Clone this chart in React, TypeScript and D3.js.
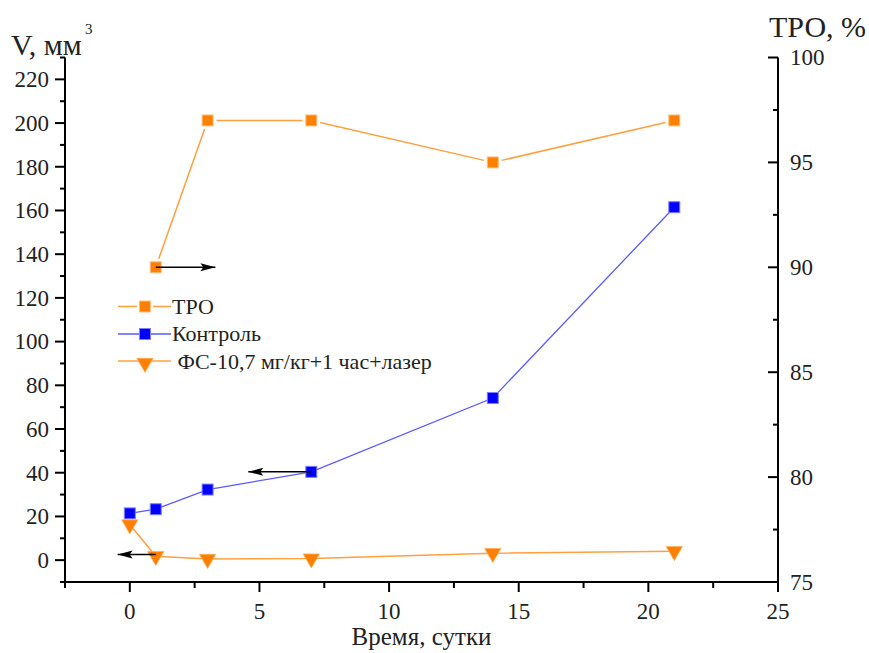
import React from "react";
import * as d3 from "d3";

// --- data ---
const days = [0, 1, 3, 7, 14, 21];
const tpoDays = [1, 3, 7, 14, 21];
const tpoValues = [90, 97, 97, 95, 97]; // right axis, %
const controlValues = [21.4, 23.3, 32.3, 40.4, 74.2, 161.5]; // left axis, mm3
const fsValues = [16.3, 1.8, 0.5, 0.7, 3.2, 4.1]; // left axis, mm3

const xTicks = [0, 5, 10, 15, 20, 25];
const xMinor = [-2.5, 2.5, 7.5, 12.5, 17.5, 22.5];
const yLeftTicks = [0, 20, 40, 60, 80, 100, 120, 140, 160, 180, 200, 220];
const yLeftMinor = [-10, 10, 30, 50, 70, 90, 110, 130, 150, 170, 190, 210, 230];
const yRightTicks = [75, 80, 85, 90, 95, 100];
const yRightMinor = [77.5, 82.5, 87.5, 92.5, 97.5];

const legendLabels = ["ТРО", "Контроль", " ФС-10,7 мг/кг+1 час+лазер"];

// arrows: [from x, to x, y, axis]
const arrows: [number, number, number, "L" | "R"][] = [
  [1, 3.3, 90, "R"],
  [7, 4.57, 40.4, "L"],
  [1, -0.47, 2.6, "L"],
];

const W = 869;
const H = 653;
const left = 65;
const right = 778;
const top = 57.5;
const bottom = 582;
const font = "Liberation Serif";

const ORANGE = "#ff8000";
const ORANGE_LINE = "#ffa040";
const BLUE = "#0000ff";
const BLUE_LINE = "#5a5aff";

export default function App() {
  const x = d3.scaleLinear().domain([-2.5, 25]).range([left, right]);
  const yL = d3.scaleLinear().domain([-10, 230]).range([bottom, top]);
  const yR = d3.scaleLinear().domain([75, 100]).range([bottom, top]);

  const seriesLine = d3.line<number>().x((_, i) => x(days[i])).y((d) => yL(d));

  const tri = d3.symbol().type(d3.symbolTriangle).size(115)();
  const sq = 11;

  // TPO segments, stopping short of the markers
  const gap = 9;
  const tpoPts = tpoDays.map((d, i) => [x(d), yR(tpoValues[i])]);
  const tpoSegs = tpoPts.slice(1).map((p, i) => {
    const a = tpoPts[i];
    const dx = p[0] - a[0];
    const dy = p[1] - a[1];
    const len = Math.hypot(dx, dy);
    const ux = dx / len;
    const uy = dy / len;
    return [a[0] + ux * gap, a[1] + uy * gap, p[0] - ux * gap, p[1] - uy * gap];
  });

  const arrowPath = (x0: number, x1: number, y: number) => {
    const dir = x1 > x0 ? 1 : -1;
    const back = x1 - dir * 15;
    const notch = x1 - dir * 12;
    return `M${x1},${y} L${back},${y - 4} L${notch},${y} L${back},${y + 4} Z`;
  };

  const txt = { fontFamily: font, fill: "#222" };

  return (
    <svg
      width={W}
      height={H}
      style={{ position: "absolute", left: 0, top: 0, background: "#fff", fontFamily: font }}
    >
      {/* axes */}
      <g stroke="#000" strokeWidth={2}>
        <line x1={left} y1={top} x2={left} y2={bottom + 1} />
        <line x1={right} y1={top} x2={right} y2={bottom + 1} />
        <line x1={left - 1} y1={bottom} x2={right + 1} y2={bottom} />
        {yLeftTicks.map((t) => (
          <line key={"lt" + t} x1={left - 10} x2={left} y1={yL(t)} y2={yL(t)} />
        ))}
        {yLeftMinor.map((t) => (
          <line key={"lm" + t} x1={left - 5} x2={left} y1={yL(t)} y2={yL(t)} />
        ))}
        {yRightTicks.map((t) => (
          <line key={"rt" + t} x1={right - 10} x2={right} y1={yR(t)} y2={yR(t)} />
        ))}
        {yRightMinor.map((t) => (
          <line key={"rm" + t} x1={right - 5} x2={right} y1={yR(t)} y2={yR(t)} />
        ))}
        {xTicks.map((t) => (
          <line key={"xt" + t} x1={x(t)} x2={x(t)} y1={bottom} y2={bottom + 10} />
        ))}
        {xMinor.map((t) => (
          <line key={"xm" + t} x1={x(t)} x2={x(t)} y1={bottom} y2={bottom + 6} />
        ))}
      </g>

      {/* tick labels */}
      <g style={{ ...txt, fontSize: 23 }}>
        {yLeftTicks.map((t) => (
          <text key={"ll" + t} x={left - 16} y={yL(t)} dy="0.34em" textAnchor="end">
            {t}
          </text>
        ))}
        {yRightTicks.map((t) => (
          <text key={"rl" + t} x={right + 12} y={yR(t)} dy="0.34em">
            {t}
          </text>
        ))}
        {xTicks.map((t) => (
          <text key={"xl" + t} x={x(t)} y={bottom + 37} textAnchor="middle">
            {t}
          </text>
        ))}
      </g>

      {/* axis titles */}
      <text x={11} y={55} style={{ ...txt, fontSize: 30 }}>
        V, мм
      </text>
      <text x={85} y={34} style={{ ...txt, fontSize: 15 }}>
        3
      </text>
      <text x={769} y={37} style={{ ...txt, fontSize: 30 }}>
        ТРО, %
      </text>
      <text x={(left + right) / 2} y={645} textAnchor="middle" style={{ ...txt, fontSize: 25 }}>
        Время, сутки
      </text>

      {/* series */}
      <g stroke={ORANGE_LINE} strokeWidth={1.5}>
        {tpoSegs.map((s, i) => (
          <line key={"ts" + i} x1={s[0]} y1={s[1]} x2={s[2]} y2={s[3]} />
        ))}
      </g>
      <path d={seriesLine(controlValues) || ""} fill="none" stroke={BLUE_LINE} strokeWidth={1.3} />
      <path d={seriesLine(fsValues) || ""} fill="none" stroke={ORANGE_LINE} strokeWidth={1.5} />

      {tpoDays.map((d, i) => (
        <rect
          key={"tm" + i}
          x={x(d) - sq / 2}
          y={yR(tpoValues[i]) - sq / 2}
          width={sq}
          height={sq}
          fill={ORANGE}
          stroke="#ffc080"
          strokeWidth={1}
        />
      ))}
      {days.map((d, i) => (
        <rect
          key={"cm" + i}
          x={x(d) - sq / 2}
          y={yL(controlValues[i]) - sq / 2}
          width={sq}
          height={sq}
          fill={BLUE}
          stroke="#8080ff"
          strokeWidth={1}
        />
      ))}
      {days.map((d, i) => (
        <path
          key={"fm" + i}
          d={tri || ""}
          transform={`translate(${x(d)},${yL(fsValues[i])}) rotate(180)`}
          fill={ORANGE}
          stroke="#ffb060"
          strokeWidth={0.8}
        />
      ))}

      {/* arrows */}
      {arrows.map(([x0, x1, v, ax], i) => {
        const yy = ax === "R" ? yR(v) : yL(v);
        return (
          <g key={"ar" + i}>
            <line x1={x(x0)} x2={x(x1)} y1={yy} y2={yy} stroke="#000" strokeWidth={1.5} />
            <path d={arrowPath(x(x0), x(x1), yy)} fill="#000" />
          </g>
        );
      })}

      {/* legend */}
      <g style={{ ...txt, fontSize: 22 }}>
        {/* TPO */}
        <line x1={118} x2={137} y1={306.5} y2={306.5} stroke={ORANGE_LINE} strokeWidth={1.5} />
        <line x1={153} x2={171} y1={306.5} y2={306.5} stroke={ORANGE_LINE} strokeWidth={1.5} />
        <rect x={139.5} y={301} width={sq} height={sq} fill={ORANGE} stroke="#ffc080" />
        <text x={172} y={306.5} dy="0.34em">{legendLabels[0]}</text>
        {/* Control */}
        <line x1={118} x2={171} y1={334} y2={334} stroke={BLUE_LINE} strokeWidth={1.3} />
        <rect x={139.5} y={328.5} width={sq} height={sq} fill={BLUE} stroke="#8080ff" />
        <text x={172} y={334} dy="0.34em">{legendLabels[1]}</text>
        {/* FS */}
        <line x1={118} x2={171} y1={361} y2={361} stroke={ORANGE_LINE} strokeWidth={1.5} />
        <path d={tri || ""} transform="translate(145,363) rotate(180)" fill={ORANGE} stroke="#ffb060" strokeWidth={0.8} />
        <text x={172} y={362} dy="0.34em" style={{ whiteSpace: "pre" }}>
          {legendLabels[2]}
        </text>
      </g>
    </svg>
  );
}
